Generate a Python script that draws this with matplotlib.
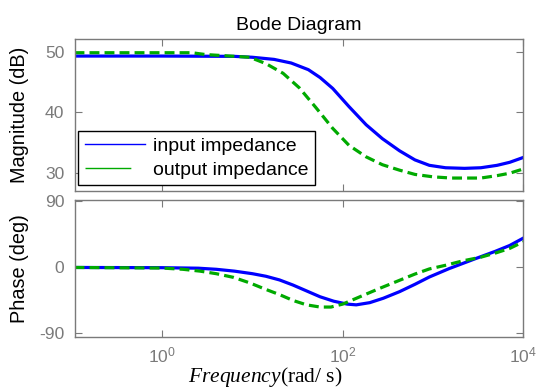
import numpy as np
import matplotlib
matplotlib.use("Agg")
import matplotlib.pyplot as plt

plt.rcParams['font.family'] = ['Liberation Sans', 'DejaVu Sans']
plt.rcParams['mathtext.fontset'] = 'custom'
plt.rcParams['mathtext.it'] = 'Liberation Serif:italic'
plt.rcParams['mathtext.rm'] = 'Liberation Sans'

# magnitude (dB) at log10(frequency)
mag_in_logf = [-0.97, 0.0, 0.8, 1.0, 1.24, 1.43, 1.62, 1.75, 1.89, 2.07, 2.26, 2.44, 2.63,
               2.8, 2.96, 3.14, 3.35, 3.53, 3.71, 3.85, 4.0]
mag_in = [49.25, 49.25, 49.2, 49.05, 48.7, 48.1, 47.0, 45.7, 43.9, 40.9, 37.9, 35.6, 33.6,
          32.1, 31.2, 30.8, 30.7, 30.8, 31.2, 31.7, 32.5]

mag_out_logf = [-0.97, 0.33, 0.48, 0.7, 0.97, 1.15, 1.34, 1.52, 1.7, 1.89, 2.07, 2.26, 2.44,
                2.63, 2.8, 3.0, 3.2, 3.53, 3.71, 3.85, 4.0]
mag_out = [49.8, 49.8, 49.5, 49.3, 49.05, 48.0, 46.4, 44.0, 40.8, 37.3, 34.5, 32.6, 31.3,
           30.4, 29.7, 29.3, 29.1, 29.1, 29.5, 29.9, 30.6]

# phase (deg)
ph_in_logf = [-0.97, 0.0, 0.4, 0.6, 0.8, 1.0, 1.15, 1.3, 1.45, 1.6, 1.75, 1.9, 2.05, 2.15,
              2.3, 2.45, 2.63, 2.8, 2.96, 3.18, 3.47, 3.69, 3.85, 4.0]
ph_in = [0.0, -0.3, -1.0, -2.5, -5.0, -8.5, -12.0, -17.0, -24.0, -32.0, -40.0, -46.0, -50.0,
         -51.0, -48.0, -42.0, -33.0, -23.0, -13.0, -1.5, 12.0, 22.0, 30.0, 40.0]

ph_out_logf = [-0.97, 0.0, 0.23, 0.42, 0.6, 0.79, 0.97, 1.15, 1.3, 1.45, 1.6, 1.75, 1.87, 2.0,
               2.19, 2.4, 2.6, 2.8, 2.96, 3.14, 3.33, 3.53, 3.7, 3.85, 4.0]
ph_out = [0.0, -0.8, -2.5, -5.0, -8.5, -13.5, -21.0, -30.0, -37.0, -45.0, -51.0, -54.0, -54.0,
          -50.0, -40.0, -29.0, -19.0, -9.0, -2.0, 3.0, 9.0, 14.0, 20.0, 26.0, 35.0]

labels = ['input impedance', 'output impedance']
gray = '#7a7a7a'
blue = '#0000ff'
green = '#00aa00'

fig = plt.figure(figsize=(5.38, 3.9), dpi=100)
ax1 = fig.add_axes([0.139, 0.5115, 0.8336, 0.389])
ax2 = fig.add_axes([0.139, 0.136, 0.8336, 0.350])

ax1.semilogx(10 ** np.array(mag_in_logf), mag_in, color=blue, lw=2.3, label=labels[0])
ax1.semilogx(10 ** np.array(mag_out_logf), mag_out, color=green, lw=2.3,
             dashes=(3.1, 1.6), label=labels[1])
ax2.semilogx(10 ** np.array(ph_in_logf), ph_in, color=blue, lw=2.3)
ax2.semilogx(10 ** np.array(ph_out_logf), ph_out, color=green, lw=2.3, dashes=(3.1, 1.6))

xmin = 10 ** -0.967
for ax in (ax1, ax2):
    ax.set_xlim(xmin, 1e4)
    ax.set_xticks([1, 1e2, 1e4])
    ax.xaxis.set_minor_locator(matplotlib.ticker.NullLocator())
    ax.tick_params(direction='in', length=5, width=0.8, color=gray, labelcolor=gray,
                   labelsize=12.6, top=True, right=True)
    ax.tick_params(axis='y', pad=7.5)
    for s in ax.spines.values():
        s.set_color(gray)
        s.set_linewidth(1.0)

ax1.set_ylim(27.04, 52.1)
ax1.set_yticks([30, 40, 50])
ax1.set_xticklabels([])
ax1.set_ylabel('Magnitude (dB)', fontsize=14.3)
ax1.yaxis.set_label_coords(-0.101, 0.5)
ax1.set_title('Bode Diagram', fontsize=14, pad=6)

ax2.set_ylim(-94.8, 91.4)
ax2.set_yticks([-90, 0, 90])
ax2.set_yticklabels(['-90', '0', '90'])
ax2.set_ylabel('Phase (deg)', fontsize=14.3)
ax2.yaxis.set_label_coords(-0.101, 0.5)
ax2.tick_params(axis='x', pad=6)
ax2.set_xlabel(r'$\mathit{Frequency}$(rad/ s)', fontsize=15.5, family='Liberation Serif')
ax2.xaxis.set_label_coords(0.424, -0.205)

leg = ax1.legend(loc='lower left', bbox_to_anchor=(0.0076, 0.034), borderaxespad=0,
                 fontsize=14, fancybox=False, framealpha=1, edgecolor='black',
                 handlelength=3.1, labelspacing=0.3, borderpad=0.35, handletextpad=0.4)
leg.get_frame().set_linewidth(1.0)
for h in leg.legend_handles:
    h.set_linewidth(1.0)
leg.legend_handles[1].set_dashes((33, 20))

fig.savefig('out.png', dpi=100)
